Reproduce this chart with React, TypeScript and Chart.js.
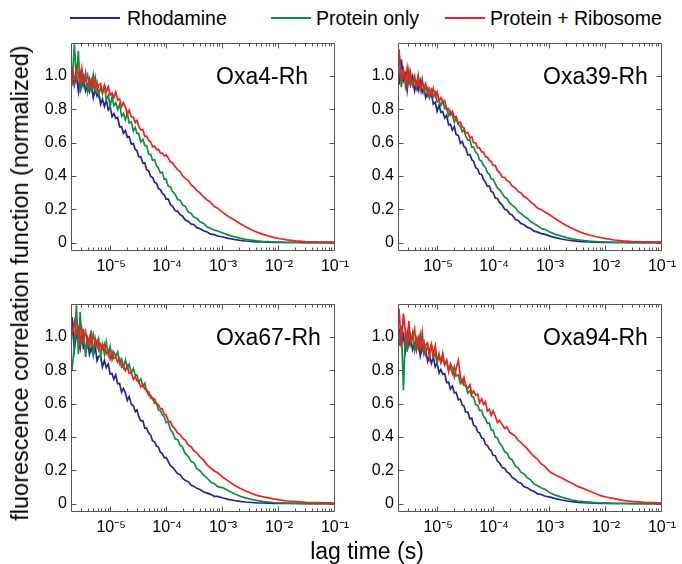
import React, { useEffect, useRef } from 'react';
import { Chart, registerables } from 'chart.js';

Chart.register(...registerables);

// ---------- data ----------
const lagTimes = [
  2.0e-6, 2.2e-6, 2.4e-6, 2.6e-6, 2.8e-6, 3.0e-6, 3.2e-6, 3.5e-6, 3.8e-6, 4.1e-6,
  4.4e-6, 4.8e-6, 5.2e-6, 5.6e-6, 6.0e-6, 6.5e-6, 7.0e-6, 7.6e-6, 8.2e-6, 8.9e-6,
  9.6e-6, 1.04e-5, 1.12e-5, 1.21e-5, 1.31e-5, 1.42e-5, 1.54e-5, 1.66e-5, 1.8e-5, 1.95e-5,
  2.1e-5, 2.3e-5, 2.5e-5, 2.7e-5, 2.9e-5, 3.1e-5, 3.4e-5, 3.7e-5, 4.0e-5, 4.3e-5,
  4.7e-5, 5.1e-5, 5.5e-5, 6.0e-5, 6.5e-5, 7.0e-5, 7.6e-5, 8.2e-5, 8.9e-5, 9.6e-5,
  1.05e-4, 1.15e-4, 1.25e-4, 1.4e-4, 1.55e-4, 1.7e-4, 1.9e-4, 2.1e-4, 2.4e-4, 2.7e-4,
  3.0e-4, 3.4e-4, 3.9e-4, 4.5e-4, 5.2e-4, 6.0e-4, 7.0e-4, 8.0e-4,
  1.0e-3, 1.25e-3, 1.6e-3, 2.0e-3, 2.5e-3, 3.2e-3, 4.0e-3, 5.0e-3, 6.5e-3, 8.0e-3,
  1.0e-2, 1.4e-2, 2.0e-2, 3.0e-2, 5.0e-2, 7.0e-2, 0.1,
];

const seriesNames = ['Rhodamine', 'Protein only', 'Protein + Ribosome'];
const panelLabels = ['Oxa4-Rh', 'Oxa39-Rh', 'Oxa67-Rh', 'Oxa94-Rh'];

const xTickValues = [1e-5, 1e-4, 1e-3, 1e-2, 1e-1];
const xTickLabels = ['10\u207B\u2075', '10\u207B\u2074', '10\u207B\u00B3', '10\u207B\u00B2', '10\u207B\u00B9'];
const yTickValues = [0, 0.2, 0.4, 0.6, 0.8, 1.0];
const yTickLabels = ['0', '0.2', '0.4', '0.6', '0.8', '1.0'];

const xAxisTitle = 'lag time (s)';
const yAxisTitle = 'fluorescence correlation function (normalized)';

// Oxa4-Rh
const rhodamine_Oxa4 = [
  1.046, 0.945, 0.999, 0.91, 1.013, 0.942, 0.993, 0.91, 0.945, 0.906,
  0.965, 0.869, 0.919, 0.879, 0.901, 0.83, 0.862, 0.817, 0.854, 0.796,
  0.817, 0.756, 0.774, 0.746, 0.751, 0.695, 0.696, 0.656, 0.673, 0.632,
  0.636, 0.591, 0.594, 0.559, 0.551, 0.516, 0.515, 0.476, 0.479, 0.439,
  0.43, 0.396, 0.392, 0.361, 0.356, 0.325, 0.318, 0.297, 0.286, 0.261,
  0.261, 0.228, 0.218, 0.191, 0.188, 0.168, 0.159, 0.137, 0.127, 0.111,
  0.109, 0.09, 0.084, 0.071, 0.064, 0.051, 0.048, 0.04,
  0.034, 0.026, 0.019, 0.014, 0.01, 0.007, 0.005, 0.004, 0.003, 0.002,
  0.002, 0.001, 0.001, 0, 0, 0, 0,
];
const proteinOnly_Oxa4 = [
  0.941, 1.19, 0.972, 1.15, 0.897, 1.028, 0.949, 1.02, 0.908, 0.978,
  0.922, 1.008, 0.917, 0.959, 0.883, 0.934, 0.899, 0.94, 0.857, 0.883,
  0.814, 0.875, 0.822, 0.839, 0.799, 0.83, 0.759, 0.775, 0.737, 0.777,
  0.718, 0.724, 0.669, 0.691, 0.655, 0.655, 0.604, 0.62, 0.582, 0.582,
  0.531, 0.529, 0.495, 0.498, 0.459, 0.448, 0.418, 0.423, 0.381, 0.381,
  0.338, 0.336, 0.308, 0.289, 0.258, 0.255, 0.225, 0.219, 0.183, 0.176,
  0.153, 0.146, 0.125, 0.115, 0.094, 0.086, 0.075, 0.07,
  0.058, 0.045, 0.035, 0.027, 0.02, 0.015, 0.011, 0.008, 0.006, 0.004,
  0.003, 0.002, 0.001, 0.001, 0, 0, 0,
];
const proteinRibosome_Oxa4 = [
  1.054, 0.96, 1.052, 1.006, 0.959, 1.044, 0.958, 0.97, 1.006, 0.933,
  0.974, 0.935, 0.993, 0.916, 0.947, 0.953, 0.896, 0.943, 0.906, 0.936,
  0.885, 0.897, 0.87, 0.903, 0.855, 0.863, 0.816, 0.84, 0.815, 0.77,
  0.795, 0.755, 0.752, 0.721, 0.734, 0.701, 0.676, 0.679, 0.637, 0.64,
  0.613, 0.604, 0.575, 0.578, 0.558, 0.56, 0.538, 0.537, 0.52, 0.526,
  0.508, 0.484, 0.479, 0.456, 0.436, 0.428, 0.4, 0.387, 0.372, 0.346,
  0.334, 0.314, 0.297, 0.274, 0.256, 0.242, 0.217, 0.207,
  0.18, 0.157, 0.136, 0.115, 0.097, 0.078, 0.064, 0.051, 0.04, 0.032,
  0.025, 0.017, 0.011, 0.007, 0.004, 0.003, 0.003,
];

// Oxa39-Rh
const rhodamine_Oxa39 = [
  0.948, 1.1, 0.974, 1.011, 0.915, 1.006, 0.947, 0.996, 0.911, 0.958,
  0.914, 0.971, 0.902, 0.927, 0.869, 0.901, 0.87, 0.894, 0.831, 0.842,
  0.788, 0.824, 0.782, 0.786, 0.748, 0.764, 0.706, 0.71, 0.675, 0.697,
  0.648, 0.643, 0.596, 0.607, 0.576, 0.57, 0.526, 0.529, 0.498, 0.489,
  0.449, 0.441, 0.412, 0.409, 0.377, 0.364, 0.338, 0.34, 0.306, 0.302,
  0.268, 0.265, 0.241, 0.225, 0.2, 0.196, 0.172, 0.167, 0.139, 0.133,
  0.115, 0.109, 0.093, 0.085, 0.069, 0.063, 0.054, 0.051,
  0.039, 0.03, 0.022, 0.016, 0.012, 0.008, 0.006, 0.004, 0.003, 0.002,
  0.002, 0.001, 0.001, 0, 0, 0, 0,
];
const proteinOnly_Oxa39 = [
  1.16, 0.933, 1.031, 0.991, 0.945, 1.032, 0.952, 0.965, 1.0, 0.926,
  0.967, 0.927, 0.982, 0.902, 0.929, 0.932, 0.873, 0.916, 0.876, 0.901,
  0.845, 0.852, 0.821, 0.853, 0.803, 0.81, 0.762, 0.787, 0.763, 0.722,
  0.747, 0.706, 0.698, 0.665, 0.677, 0.641, 0.615, 0.616, 0.572, 0.574,
  0.544, 0.53, 0.496, 0.489, 0.462, 0.453, 0.419, 0.411, 0.382, 0.382,
  0.354, 0.327, 0.319, 0.294, 0.272, 0.265, 0.238, 0.225, 0.211, 0.186,
  0.177, 0.159, 0.147, 0.127, 0.114, 0.102, 0.085, 0.08,
  0.063, 0.05, 0.039, 0.03, 0.023, 0.017, 0.013, 0.009, 0.007, 0.005,
  0.004, 0.002, 0.002, 0.001, 0.001, 0, 0,
];
const proteinRibosome_Oxa39 = [
  1.15, 0.984, 1.039, 0.945, 1.048, 0.972, 1.025, 0.944, 0.979, 0.943,
  1.005, 0.913, 0.967, 0.931, 0.955, 0.887, 0.924, 0.885, 0.926, 0.876,
  0.904, 0.85, 0.87, 0.845, 0.852, 0.799, 0.805, 0.767, 0.787, 0.749,
  0.756, 0.715, 0.723, 0.692, 0.688, 0.657, 0.661, 0.628, 0.635, 0.6,
  0.596, 0.569, 0.569, 0.544, 0.543, 0.516, 0.512, 0.494, 0.486, 0.463,
  0.464, 0.432, 0.422, 0.394, 0.392, 0.372, 0.363, 0.34, 0.327, 0.307,
  0.3, 0.278, 0.265, 0.245, 0.228, 0.207, 0.198, 0.185,
  0.166, 0.143, 0.12, 0.102, 0.085, 0.068, 0.056, 0.046, 0.037, 0.031,
  0.024, 0.016, 0.011, 0.007, 0.005, 0.004, 0.003,
];

// Oxa67-Rh
const rhodamine_Oxa67 = [
  1.12, 0.921, 1.017, 0.976, 0.929, 1.014, 0.931, 0.941, 0.972, 0.896,
  0.934, 0.891, 0.942, 0.858, 0.883, 0.883, 0.82, 0.859, 0.816, 0.838,
  0.778, 0.78, 0.746, 0.773, 0.719, 0.721, 0.669, 0.691, 0.663, 0.62,
  0.642, 0.597, 0.587, 0.552, 0.562, 0.525, 0.497, 0.497, 0.453, 0.453,
  0.424, 0.41, 0.377, 0.371, 0.345, 0.339, 0.307, 0.301, 0.275, 0.277,
  0.254, 0.226, 0.22, 0.198, 0.179, 0.175, 0.151, 0.141, 0.131, 0.11,
  0.105, 0.092, 0.085, 0.07, 0.063, 0.056, 0.044, 0.044,
  0.034, 0.026, 0.019, 0.014, 0.01, 0.007, 0.005, 0.004, 0.003, 0.002,
  0.002, 0.001, 0.001, 0, 0, 0, 0,
];
const proteinOnly_Oxa67 = [
  0.8, 0.94, 1.19, 0.896, 1.15, 0.958, 1.048, 0.88, 0.99, 0.937,
  1.04, 0.899, 0.992, 0.941, 0.987, 0.886, 0.952, 0.896, 0.969, 0.894,
  0.943, 0.865, 0.909, 0.883, 0.911, 0.84, 0.866, 0.817, 0.862, 0.814,
  0.836, 0.785, 0.81, 0.77, 0.772, 0.73, 0.748, 0.704, 0.722, 0.672,
  0.672, 0.634, 0.637, 0.602, 0.602, 0.561, 0.558, 0.532, 0.522, 0.486,
  0.49, 0.442, 0.429, 0.388, 0.384, 0.352, 0.337, 0.301, 0.282, 0.252,
  0.246, 0.211, 0.196, 0.171, 0.154, 0.129, 0.12, 0.102,
  0.095, 0.077, 0.06, 0.046, 0.035, 0.026, 0.02, 0.014, 0.01, 0.007,
  0.005, 0.003, 0.002, 0.001, 0, 0, 0,
];
const proteinRibosome_Oxa67 = [
  1.008, 1.094, 1.023, 1.055, 0.96, 1.048, 0.987, 1.034, 0.95, 0.998,
  0.956, 1.015, 0.949, 0.977, 0.922, 0.957, 0.931, 0.959, 0.899, 0.917,
  0.868, 0.911, 0.871, 0.88, 0.85, 0.87, 0.818, 0.827, 0.797, 0.825,
  0.782, 0.785, 0.746, 0.762, 0.736, 0.736, 0.7, 0.713, 0.686, 0.685,
  0.649, 0.649, 0.624, 0.628, 0.599, 0.592, 0.569, 0.57, 0.536, 0.532,
  0.497, 0.491, 0.465, 0.448, 0.422, 0.416, 0.391, 0.383, 0.351, 0.34,
  0.317, 0.305, 0.279, 0.261, 0.233, 0.214, 0.196, 0.185,
  0.158, 0.135, 0.111, 0.093, 0.078, 0.063, 0.05, 0.042, 0.035, 0.029,
  0.023, 0.016, 0.012, 0.008, 0.006, 0.005, 0.004,
];

// Oxa94-Rh
const rhodamine_Oxa94 = [
  1.05, 0.952, 1.01, 0.921, 1.023, 0.952, 1.005, 0.924, 0.96, 0.922,
  0.981, 0.886, 0.938, 0.899, 0.922, 0.852, 0.884, 0.841, 0.88, 0.821,
  0.844, 0.784, 0.804, 0.776, 0.78, 0.726, 0.729, 0.688, 0.705, 0.664,
  0.668, 0.623, 0.626, 0.592, 0.585, 0.55, 0.549, 0.509, 0.513, 0.471,
  0.464, 0.43, 0.425, 0.394, 0.389, 0.356, 0.348, 0.328, 0.316, 0.29,
  0.288, 0.256, 0.244, 0.216, 0.211, 0.19, 0.179, 0.157, 0.145, 0.128,
  0.124, 0.103, 0.096, 0.082, 0.073, 0.059, 0.055, 0.046,
  0.039, 0.03, 0.022, 0.016, 0.012, 0.008, 0.006, 0.004, 0.003, 0.002,
  0.002, 0.001, 0.001, 0, 0, 0, 0,
];
const proteinOnly_Oxa94 = [
  0.945, 1.068, 0.68, 1.031, 0.911, 1.033, 0.959, 1.025, 0.921, 0.986,
  0.934, 1.015, 0.93, 0.969, 0.899, 0.946, 0.915, 0.953, 0.876, 0.902,
  0.84, 0.898, 0.85, 0.868, 0.833, 0.863, 0.801, 0.817, 0.781, 0.821,
  0.766, 0.772, 0.722, 0.743, 0.71, 0.71, 0.663, 0.678, 0.642, 0.641,
  0.594, 0.59, 0.559, 0.56, 0.522, 0.512, 0.481, 0.484, 0.443, 0.44,
  0.399, 0.394, 0.364, 0.343, 0.311, 0.304, 0.272, 0.264, 0.225, 0.215,
  0.189, 0.18, 0.156, 0.143, 0.118, 0.108, 0.094, 0.088,
  0.065, 0.051, 0.039, 0.03, 0.022, 0.016, 0.012, 0.009, 0.006, 0.004,
  0.003, 0.002, 0.001, 0.001, 0, 0, 0,
];
const proteinRibosome_Oxa94 = [
  1.17, 0.944, 1.14, 1.034, 0.958, 1.096, 0.968, 0.988, 1.046, 0.93,
  0.996, 0.936, 1.027, 0.904, 0.953, 0.965, 0.876, 0.953, 0.896, 0.947,
  0.866, 0.886, 0.844, 0.903, 0.834, 0.853, 0.791, 0.84, 0.813, 0.761,
  0.811, 0.86, 0.763, 0.723, 0.756, 0.712, 0.69, 0.712, 0.658, 0.676,
  0.651, 0.658, 0.605, 0.629, 0.594, 0.611, 0.555, 0.566, 0.53, 0.556,
  0.526, 0.486, 0.499, 0.474, 0.451, 0.461, 0.428, 0.418, 0.405, 0.379,
  0.368, 0.349, 0.33, 0.304, 0.284, 0.265, 0.238, 0.225,
  0.19, 0.172, 0.155, 0.138, 0.121, 0.102, 0.09, 0.076, 0.061, 0.048,
  0.04, 0.03, 0.02, 0.013, 0.008, 0.006, 0.004,
];

// ---------- styling ----------
const FONT = "'Liberation Sans', Arial, Helvetica, sans-serif";
const COLORS = ['#23239a', '#0e8f3e', '#f2201f'];
const FRAME_COLOR = '#555555';

const Y_AXIS_W = 50;
const X_AXIS_H = 32;
const PAD_T = 12;
const PAD_R = 15;
const PLOT_W = 268;
const PLOT_H = 211;
const CW = Y_AXIS_W + PLOT_W + PAD_R;
const CH = PAD_T + PLOT_H + X_AXIS_H;

const framePlugin = {
  id: 'frame',
  afterDatasetsDraw(chart: any, _args: any, opts: any) {
    const { ctx, chartArea: a, scales } = chart;
    const xs = scales.x;
    const ys = scales.y;
    ctx.save();
    ctx.strokeStyle = FRAME_COLOR;
    ctx.lineWidth = 1;
    const L = Math.round(a.left) - 0.5;
    const R = Math.round(a.right) - 0.5;
    const T = Math.round(a.top) + 0.5;
    const B = Math.round(a.bottom) - 0.5;
    ctx.beginPath();
    ctx.rect(L, T, R - L, B - T);
    ctx.stroke();
    ctx.beginPath();
    for (const v of xTickValues) {
      const px = Math.round(xs.getPixelForValue(v)) - 0.5;
      ctx.moveTo(px, B); ctx.lineTo(px, B - 5);
      ctx.moveTo(px, T); ctx.lineTo(px, T + 5);
    }
    for (let d = -6; d <= -2; d++) {
      for (let k = 2; k <= 9; k++) {
        const v = k * Math.pow(10, d);
        if (v <= xs.min * 1.01 || v >= xs.max * 0.99) continue;
        const px = Math.round(xs.getPixelForValue(v)) - 0.5;
        ctx.moveTo(px, B); ctx.lineTo(px, B - 3);
        ctx.moveTo(px, T); ctx.lineTo(px, T + 3);
      }
    }
    for (const v of yTickValues) {
      const py = Math.round(ys.getPixelForValue(v)) + 0.5;
      ctx.moveTo(L, py); ctx.lineTo(L + 5, py);
      ctx.moveTo(R, py); ctx.lineTo(R - 5, py);
    }
    ctx.stroke();
    ctx.fillStyle = '#000';
    ctx.font = `23px ${FONT}`;
    ctx.textAlign = 'left';
    ctx.textBaseline = 'alphabetic';
    ctx.fillText(opts.label, a.left + 144, a.top + 41);
    ctx.restore();
  },
};

type PanelProps = { label: string; rh: number[]; po: number[]; pr: number[]; left: number; top: number };

function Panel({ label, rh, po, pr, left, top }: PanelProps) {
  const ref = useRef<HTMLCanvasElement | null>(null);
  useEffect(() => {
    const canvas = ref.current;
    if (!canvas) return;
    const pts = (vals: number[]) => lagTimes.map((t, i) => ({ x: t, y: vals[i] }));
    const ds = (name: string, vals: number[], color: string, order: number) => ({
      label: name,
      data: pts(vals),
      borderColor: color,
      backgroundColor: color,
      borderWidth: 1.7,
      pointRadius: 0,
      tension: 0,
      fill: false,
      order,
    });
    const chart = new Chart(canvas, {
      type: 'line',
      data: {
        datasets: [
          ds(seriesNames[2], pr, COLORS[2], 0),
          ds(seriesNames[1], po, COLORS[1], 1),
          ds(seriesNames[0], rh, COLORS[0], 2),
        ],
      },
      options: {
        animation: false,
        responsive: false,
        maintainAspectRatio: false,
        events: [],
        layout: { padding: { top: PAD_T, right: PAD_R, left: 0, bottom: 0 } },
        plugins: {
          legend: { display: false },
          tooltip: { enabled: false },
          title: { display: false },
          frame: { label },
        } as any,
        scales: {
          x: {
            type: 'logarithmic',
            min: 2e-6,
            max: 0.1,
            afterBuildTicks: (s: any) => { s.ticks = xTickValues.map((v) => ({ value: v })); },
            afterFit: (s: any) => { s.height = X_AXIS_H; },
            grid: { display: false, drawTicks: false },
            border: { display: false },
            ticks: {
              autoSkip: false,
              maxRotation: 0,
              minRotation: 0,
              padding: 6,
              color: '#000',
              font: { family: FONT, size: 16 },
              callback: (_v: any, i: number) => xTickLabels[i],
            },
          },
          y: {
            type: 'linear',
            min: -0.05,
            max: 1.2,
            afterBuildTicks: (s: any) => { s.ticks = yTickValues.map((v) => ({ value: v })); },
            afterFit: (s: any) => { s.width = Y_AXIS_W; },
            grid: { display: false, drawTicks: false },
            border: { display: false },
            ticks: {
              padding: 5,
              color: '#000',
              font: { family: FONT, size: 16 },
              callback: (_v: any, i: number) => yTickLabels[i],
            },
          },
        },
      } as any,
      plugins: [framePlugin],
    });
    return () => chart.destroy();
  }, [label, rh, po, pr]);
  return (
    <canvas
      ref={ref}
      width={CW}
      height={CH}
      style={{ position: 'absolute', left: left - Y_AXIS_W, top: top - PAD_T, width: CW, height: CH }}
    />
  );
}

const legendItems = [
  { lineLeft: 70, lineW: 50, textLeft: 127 },
  { lineLeft: 271, lineW: 40, textLeft: 316 },
  { lineLeft: 445, lineW: 40, textLeft: 490 },
];

export default function App() {
  const panels = [
    { label: panelLabels[0], rh: rhodamine_Oxa4, po: proteinOnly_Oxa4, pr: proteinRibosome_Oxa4, left: 72, top: 40 },
    { label: panelLabels[1], rh: rhodamine_Oxa39, po: proteinOnly_Oxa39, pr: proteinRibosome_Oxa39, left: 399, top: 40 },
    { label: panelLabels[2], rh: rhodamine_Oxa67, po: proteinOnly_Oxa67, pr: proteinRibosome_Oxa67, left: 72, top: 301 },
    { label: panelLabels[3], rh: rhodamine_Oxa94, po: proteinOnly_Oxa94, pr: proteinRibosome_Oxa94, left: 399, top: 301 },
  ];
  return (
    <div
      style={{
        position: 'absolute',
        left: 0,
        top: 0,
        width: 682,
        height: 564,
        background: '#fff',
        overflow: 'hidden',
        fontFamily: FONT,
        color: '#000',
      }}
    >
      {legendItems.map((it, i) => (
        <React.Fragment key={i}>
          <div style={{ position: 'absolute', left: it.lineLeft, top: 17, width: it.lineW, height: 2, background: COLORS[i] }} />
          <div style={{ position: 'absolute', left: it.textLeft, top: 8, height: 20, lineHeight: '20px', fontSize: 19.5, whiteSpace: 'nowrap' }}>
            {seriesNames[i]}
          </div>
        </React.Fragment>
      ))}
      {panels.map((p) => (
        <Panel key={p.label} {...p} />
      ))}
      <div
        style={{
          position: 'absolute',
          left: 20,
          top: 283,
          fontSize: 23.5,
          lineHeight: '26px',
          whiteSpace: 'nowrap',
          transform: 'translate(-50%, -50%) rotate(-90deg)',
        }}
      >
        {yAxisTitle}
      </div>
      <div
        style={{
          position: 'absolute',
          left: 367,
          top: 551,
          fontSize: 23,
          lineHeight: '26px',
          whiteSpace: 'nowrap',
          transform: 'translate(-50%, -50%)',
        }}
      >
        {xAxisTitle}
      </div>
    </div>
  );
}
